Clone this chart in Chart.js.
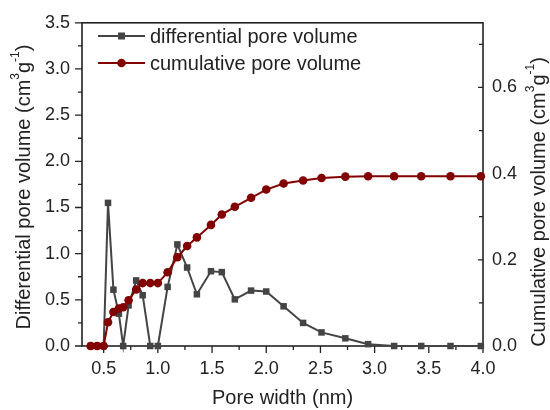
<!DOCTYPE html>
<html>
<head>
<meta charset="utf-8">
<script src="https://cdn.jsdelivr.net/npm/chart.js@4.4.0/dist/chart.umd.min.js"></script>
<style>
  html, body { margin: 0; padding: 0; background: #fff; }
</style>
</head>
<body>
<canvas id="chart" width="550" height="410"></canvas>
<script>
// pore width (nm), shared by both series
const poreWidth = [0.38, 0.44, 0.50, 0.54, 0.59, 0.64, 0.68, 0.73, 0.80, 0.86, 0.93, 1.00,
  1.09, 1.18, 1.27, 1.36, 1.49, 1.59, 1.71, 1.86, 2.00, 2.16, 2.34, 2.51, 2.73, 2.94,
  3.18, 3.43, 3.70, 3.98];
// differential pore volume (cm3/g)
const differential = [0, 0, 0, 1.55, 0.61, 0.35, 0.0, 0.44, 0.71, 0.55, 0, 0,
  0.64, 1.10, 0.85, 0.56, 0.81, 0.80, 0.505, 0.60, 0.59, 0.43, 0.25, 0.147, 0.083, 0.02,
  0, 0, 0, 0];
// cumulative pore volume (cm3/g)
const cumulative = [0, 0, 0, 0.055, 0.079, 0.087, 0.090, 0.106, 0.131, 0.146, 0.146, 0.146,
  0.171, 0.206, 0.232, 0.252, 0.281, 0.305, 0.323, 0.344, 0.363, 0.377, 0.384, 0.390, 0.393, 0.394,
  0.394, 0.394, 0.394, 0.394];

const xTicks = [0.5, 1.0, 1.5, 2.0, 2.5, 3.0, 3.5, 4.0];
const leftTicks = [0, 0.5, 1.0, 1.5, 2.0, 2.5, 3.0, 3.5];
const rightTicks = [0, 0.2, 0.4, 0.6];

const fam = "'Liberation Sans', Arial, sans-serif";
const ink = '#222';
const grey = '#444444';
const red = '#820000';

function setTicks(list) {
  return function (scale) {
    scale.ticks = list.map(v => ({ value: v }));
  };
}

// text with superscripts, rotated to read bottom -> top
function drawRich(ctx, cx, cy, parts, size) {
  const big = size + 'px ' + fam;
  const small = Math.round(size * 0.62) + 'px ' + fam;
  ctx.save();
  ctx.translate(cx, cy);
  ctx.rotate(-Math.PI / 2);
  let w = 0;
  parts.forEach(p => { ctx.font = p[1] ? small : big; w += ctx.measureText(p[0]).width; });
  let x = -w / 2;
  ctx.fillStyle = ink;
  ctx.textAlign = 'left';
  ctx.textBaseline = 'middle';
  parts.forEach(p => {
    ctx.font = p[1] ? small : big;
    ctx.fillText(p[0], x, p[1] ? -size * 0.4 : 0);
    x += ctx.measureText(p[0]).width;
  });
  ctx.restore();
}

const frame = {
  id: 'frame',
  beforeDatasetsDraw(chart) {
    const { ctx, chartArea: a, scales } = chart;
    ctx.save();
    ctx.strokeStyle = ink;
    ctx.lineWidth = 1.6;
    ctx.strokeRect(a.left, a.top, a.right - a.left, a.bottom - a.top);
    ctx.lineWidth = 1.3;
    ctx.beginPath();
    // x axis: major and minor, outward
    for (let v = 0.5; v <= 4.0001; v += 0.25) {
      const px = scales.x.getPixelForValue(v);
      const len = Math.abs(v * 2 - Math.round(v * 2)) < 0.01 ? 7 : 4;
      ctx.moveTo(px, a.bottom); ctx.lineTo(px, a.bottom + len);
    }
    // left axis, outward
    for (let v = 0; v <= 3.5001; v += 0.25) {
      const py = scales.y.getPixelForValue(v);
      const len = Math.abs(v * 2 - Math.round(v * 2)) < 0.01 ? 7 : 4;
      ctx.moveTo(a.left, py); ctx.lineTo(a.left - len, py);
    }
    // right axis, inward
    for (let v = 0; v <= 0.7501; v += 0.1) {
      const py = scales.y2.getPixelForValue(v);
      const len = Math.round(v * 10) % 2 === 0 ? 5 : 4;
      ctx.moveTo(a.right, py); ctx.lineTo(a.right - len, py);
    }
    ctx.stroke();
    ctx.restore();
  },
  afterDraw(chart) {
    const { ctx } = chart;
    ctx.save();
    // legend
    const rows = [
      { y: 36, color: grey, label: 'differential pore volume', shape: 'rect' },
      { y: 63, color: red, label: 'cumulative pore volume', shape: 'circle' }
    ];
    rows.forEach(r => {
      ctx.strokeStyle = r.color;
      ctx.fillStyle = r.color;
      ctx.lineWidth = 2;
      ctx.beginPath();
      ctx.moveTo(98, r.y); ctx.lineTo(145, r.y);
      ctx.stroke();
      ctx.beginPath();
      if (r.shape === 'rect') ctx.rect(118, r.y - 3.5, 7, 7);
      else ctx.arc(121.5, r.y, 4.3, 0, Math.PI * 2);
      ctx.fill();
      ctx.fillStyle = ink;
      ctx.font = '20px ' + fam;
      ctx.textAlign = 'left';
      ctx.textBaseline = 'middle';
      ctx.fillText(r.label, 150, r.y + 1);
    });
    ctx.restore();
    drawRich(ctx, 24, 187, [['Differential pore volume (cm', false], ['3', true], ['g', false], ['-1', true], [')', false]], 20);
    drawRich(ctx, 539, 202, [['Cumulative pore volume (cm', false], ['3', true], ['g', false], ['-1', true], [')', false]], 20);
  }
};

const tickFont = { family: fam, size: 18 };

new Chart(document.getElementById('chart'), {
  type: 'line',
  data: {
    datasets: [
      {
        label: 'cumulative pore volume',
        data: poreWidth.map((x, i) => ({ x: x, y: cumulative[i] })),
        yAxisID: 'y2',
        borderColor: red,
        backgroundColor: red,
        borderWidth: 2,
        pointStyle: 'circle',
        pointRadius: 4.3,
        pointBorderWidth: 0,
        clip: false,
        order: 0
      },
      {
        label: 'differential pore volume',
        data: poreWidth.map((x, i) => ({ x: x, y: differential[i] })),
        yAxisID: 'y',
        borderColor: grey,
        backgroundColor: grey,
        borderWidth: 2,
        pointStyle: 'rect',
        pointRadius: 4.6,
        pointBorderWidth: 0,
        clip: false,
        order: 1
      }
    ]
  },
  options: {
    responsive: false,
    devicePixelRatio: 1,
    animation: false,
    layout: { padding: { top: 22, left: 0, right: 0, bottom: 0 } },
    plugins: { legend: { display: false }, tooltip: { enabled: false } },
    scales: {
      x: {
        type: 'linear',
        min: 0.3,
        max: 4.0,
        afterBuildTicks: setTicks(xTicks),
        afterFit: s => { s.height = 64; },
        grid: { display: false, drawTicks: false },
        border: { display: false },
        ticks: { font: tickFont, color: ink, padding: 12, maxRotation: 0, callback: v => v.toFixed(1) },
        title: { display: true, text: 'Pore width (nm)', font: { family: fam, size: 20 }, color: ink, padding: 0 }
      },
      y: {
        position: 'left',
        min: 0,
        max: 3.5,
        afterBuildTicks: setTicks(leftTicks),
        afterFit: s => { s.width = 82; },
        grid: { display: false, drawTicks: false },
        border: { display: false },
        ticks: { font: tickFont, color: ink, padding: 12, callback: v => v.toFixed(1) }
      },
      y2: {
        position: 'right',
        min: 0,
        max: 0.75,
        afterBuildTicks: setTicks(rightTicks),
        afterFit: s => { s.width = 67; },
        grid: { display: false, drawTicks: false },
        border: { display: false },
        ticks: { font: tickFont, color: ink, padding: 9, callback: v => v.toFixed(1) }
      }
    }
  },
  plugins: [frame]
});
</script>
</body>
</html>
